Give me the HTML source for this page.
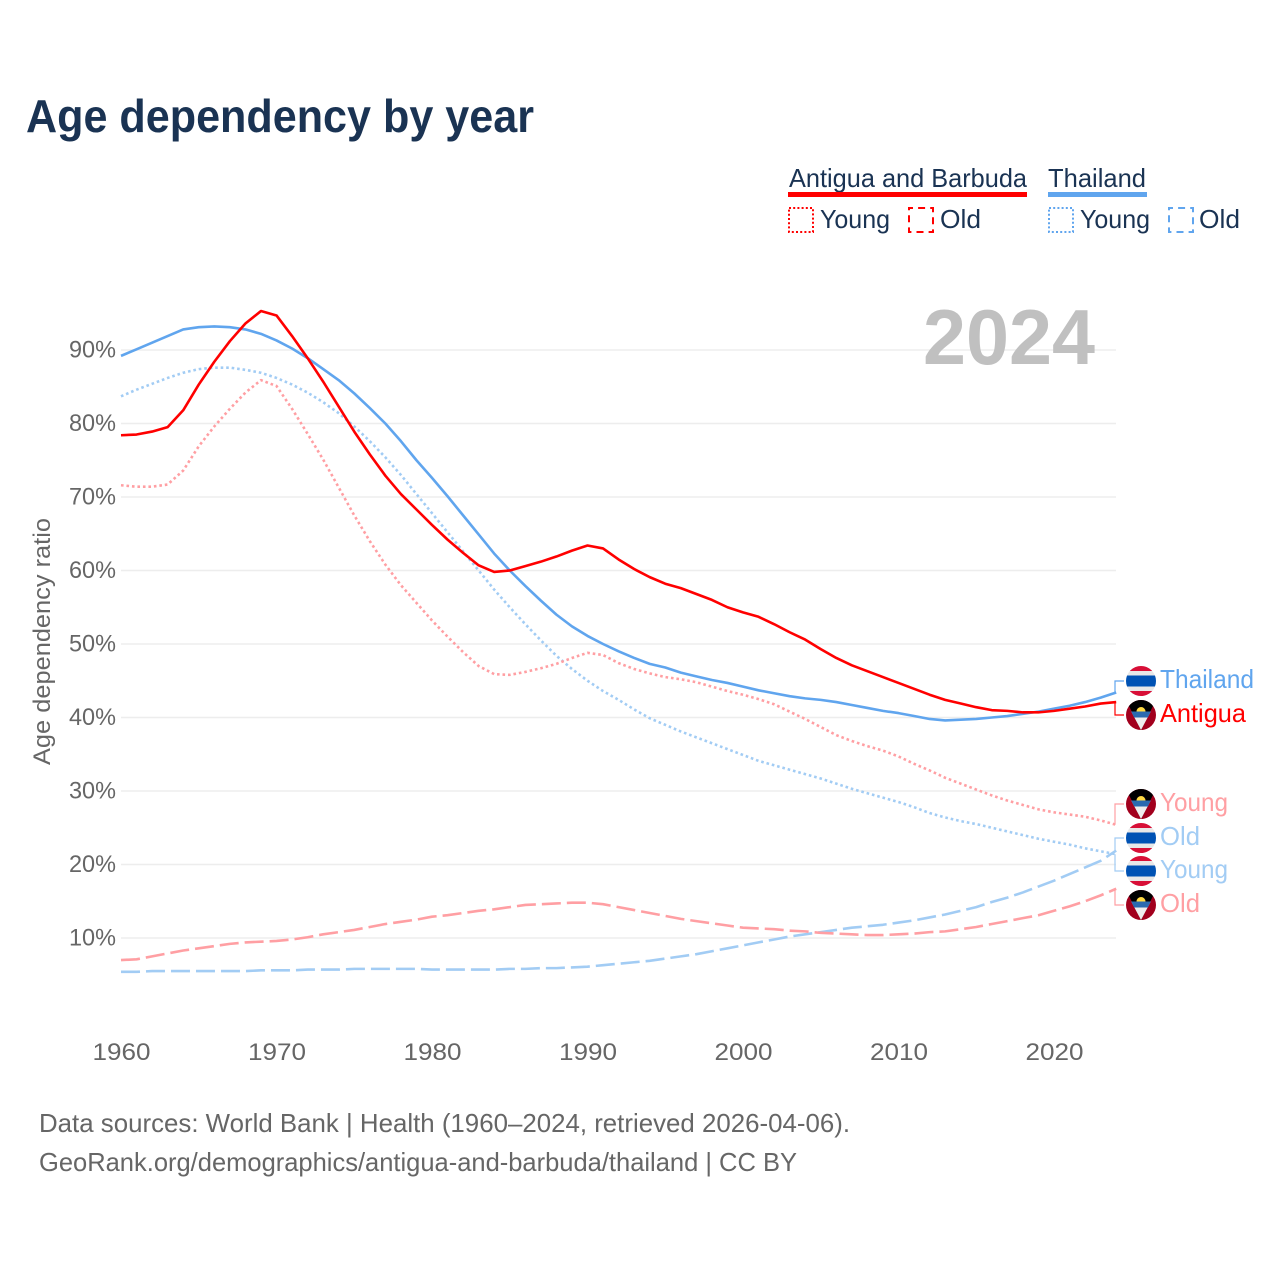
<!DOCTYPE html>
<html lang="en">
<head>
<meta charset="utf-8">
<title>Age dependency by year</title>
<style>
html,body{margin:0;padding:0;background:#fff;}
svg{display:block;font-family:"Liberation Sans",sans-serif;}
</style>
</head>
<body>
<svg id="chart" xmlns="http://www.w3.org/2000/svg" width="1280" height="1280" viewBox="0 0 1280 1280">
  <rect width="1280" height="1280" fill="#fff"/>
  <text x="26" y="132" font-size="46" font-weight="700" fill="#1a3353" textLength="508" lengthAdjust="spacingAndGlyphs">Age dependency by year</text>

  <g id="grid"></g>
  <text x="923" y="364" font-size="78" font-weight="700" fill="#c0c0c0" textLength="172" lengthAdjust="spacingAndGlyphs">2024</text>
  <g id="series"></g>
  <g id="yticks"></g>
  <g id="xticks"></g>
  <text transform="translate(50,765) rotate(-90)" font-size="24" fill="#666" textLength="247" lengthAdjust="spacingAndGlyphs">Age dependency ratio</text>

  <g font-size="26" fill="#1a3353">
    <text x="789" y="187" textLength="238" lengthAdjust="spacingAndGlyphs">Antigua and Barbuda</text>
    <rect x="788" y="192" width="239" height="5" fill="#ff0000"/>
    <text x="1048" y="187" textLength="98" lengthAdjust="spacingAndGlyphs">Thailand</text>
    <rect x="1048" y="192" width="99" height="5" fill="#60a5ee"/>
    <rect x="789" y="208" width="24" height="24" fill="none" stroke="#ff0000" stroke-width="2" stroke-dasharray="2 2.2"/>
    <text x="820" y="228" textLength="70" lengthAdjust="spacingAndGlyphs">Young</text>
    <rect x="909" y="208" width="24" height="24" fill="none" stroke="#ff0000" stroke-width="2" stroke-dasharray="7 5.1" stroke-dashoffset="3"/>
    <text x="940" y="228" textLength="41" lengthAdjust="spacingAndGlyphs">Old</text>
    <rect x="1049" y="208" width="24" height="24" fill="none" stroke="#60a5ee" stroke-width="2" stroke-dasharray="2 2.2"/>
    <text x="1080" y="228" textLength="70" lengthAdjust="spacingAndGlyphs">Young</text>
    <rect x="1169" y="208" width="24" height="24" fill="none" stroke="#60a5ee" stroke-width="2" stroke-dasharray="7 5.1" stroke-dashoffset="3"/>
    <text x="1199" y="228" textLength="41" lengthAdjust="spacingAndGlyphs">Old</text>
  </g>

  <defs>
    <clipPath id="flag-clip"><circle cx="0" cy="0" r="15"/></clipPath>
    <g id="flag-thailand">
      <g clip-path="url(#flag-clip)">
        <rect x="-15" y="-15" width="30" height="30" fill="#e8e8e8"/>
        <rect x="-15" y="-15" width="30" height="5" fill="#d80f37"/>
        <rect x="-15" y="10" width="30" height="5" fill="#d80f37"/>
        <rect x="-15" y="-5.5" width="30" height="11" fill="#0052b4"/>
      </g>
    </g>
    <g id="flag-antigua">
      <g clip-path="url(#flag-clip)">
        <rect x="-15" y="-15" width="30" height="30" fill="#a2001d"/>
        <polygon points="-15,-15 15,-15 0,15" fill="#000"/>
        <polygon points="-9.8,-3.5 9.8,-3.5 0,15" fill="#eeeeee"/>
        <polygon points="-9.8,-3.5 9.8,-3.5 6.8,2.5 -6.8,2.5" fill="#2a6ab0"/>
        <path d="M-4.5,-3.5 A4.5,4.5 0 0 1 4.5,-3.5 Z" fill="#ffda44"/>
      </g>
    </g>
  </defs>
  <g id="end-labels"></g>

  <text x="39" y="1132" font-size="26" fill="#666" textLength="811" lengthAdjust="spacingAndGlyphs">Data sources: World Bank | Health (1960–2024, retrieved 2026-04-06).</text>
  <text x="39" y="1171" font-size="26" fill="#666" textLength="758" lengthAdjust="spacingAndGlyphs">GeoRank.org/demographics/antigua-and-barbuda/thailand | CC BY</text>
</svg>
<script>
const startYear = 1960;
const xTickYears = [1960, 1970, 1980, 1990, 2000, 2010, 2020];
const yTickValues = [10, 20, 30, 40, 50, 60, 70, 80, 90];
const thailandTotal = [89.2,90.1,91.0,91.9,92.8,93.1,93.2,93.1,92.8,92.2,91.3,90.2,88.9,87.4,85.9,84.1,82.1,80.0,77.6,75.0,72.6,70.1,67.5,64.9,62.3,60.0,57.9,55.9,54.0,52.4,51.1,50.0,49.0,48.1,47.3,46.8,46.1,45.6,45.1,44.7,44.2,43.7,43.3,42.9,42.6,42.4,42.1,41.7,41.3,40.9,40.6,40.2,39.8,39.6,39.7,39.8,40.0,40.2,40.5,40.8,41.2,41.6,42.1,42.7,43.4];
const antiguaTotal = [78.4,78.5,78.9,79.5,81.8,85.3,88.4,91.2,93.6,95.3,94.7,91.9,88.9,85.7,82.3,78.9,75.8,72.9,70.4,68.3,66.2,64.2,62.4,60.7,59.8,60.0,60.6,61.2,61.9,62.7,63.4,63.0,61.5,60.2,59.1,58.2,57.6,56.8,56.0,55.0,54.3,53.7,52.7,51.6,50.6,49.3,48.1,47.1,46.3,45.5,44.7,43.9,43.1,42.4,41.9,41.4,41.0,40.9,40.7,40.7,40.9,41.2,41.5,41.9,42.1];
const antiguaYoung = [71.6,71.4,71.4,71.7,73.6,76.9,79.6,82.0,84.2,85.9,85.1,82.0,78.6,75.1,71.3,67.5,64.0,60.8,58.0,55.6,53.2,51.0,48.9,47.0,45.9,45.8,46.2,46.7,47.3,48.1,48.8,48.5,47.4,46.6,46.0,45.5,45.2,44.8,44.2,43.6,43.1,42.5,41.8,40.8,39.8,38.7,37.6,36.8,36.1,35.5,34.7,33.7,32.8,31.8,31.0,30.2,29.4,28.7,28.1,27.5,27.1,26.8,26.5,26.0,25.4];
const thailandYoung = [83.7,84.6,85.4,86.2,86.9,87.4,87.6,87.6,87.3,86.9,86.2,85.3,84.2,82.9,81.4,79.6,77.6,75.4,73.0,70.4,67.8,65.2,62.6,60.0,57.4,55.0,52.7,50.5,48.4,46.6,45.0,43.6,42.4,41.1,39.9,39.0,38.1,37.3,36.5,35.7,34.9,34.1,33.5,32.9,32.3,31.7,31.0,30.3,29.7,29.1,28.5,27.8,27.0,26.4,25.9,25.5,25.0,24.5,24.0,23.5,23.1,22.7,22.2,21.8,21.4];
const antiguaOld = [7.0,7.1,7.5,7.9,8.3,8.6,8.9,9.2,9.4,9.5,9.6,9.8,10.1,10.5,10.8,11.1,11.5,11.9,12.2,12.5,12.9,13.1,13.4,13.7,13.9,14.2,14.5,14.6,14.7,14.8,14.8,14.6,14.2,13.8,13.4,13.0,12.6,12.3,12.0,11.7,11.4,11.3,11.2,11.0,10.9,10.7,10.6,10.5,10.4,10.4,10.5,10.6,10.8,10.9,11.2,11.5,11.9,12.3,12.7,13.1,13.7,14.3,15.0,15.8,16.7];
const thailandOld = [5.4,5.4,5.5,5.5,5.5,5.5,5.5,5.5,5.5,5.6,5.6,5.6,5.7,5.7,5.7,5.8,5.8,5.8,5.8,5.8,5.7,5.7,5.7,5.7,5.7,5.8,5.8,5.9,5.9,6.0,6.1,6.3,6.5,6.7,6.9,7.2,7.5,7.8,8.2,8.6,9.0,9.4,9.8,10.2,10.5,10.8,11.1,11.4,11.6,11.8,12.1,12.4,12.8,13.2,13.7,14.2,14.9,15.5,16.2,17.0,17.8,18.7,19.6,20.5,21.9];

const NS = 'http://www.w3.org/2000/svg';
const xScale = year => 121 + (year - 1960) * 15.55;
const yScale = value => 938 - (value - 10) * 7.35;
const pts = values => values.map((v, i) => xScale(startYear + i).toFixed(2) + ',' + yScale(v).toFixed(2)).join(' ');

function make(tag, attrs, text) {
  const el = document.createElementNS(NS, tag);
  for (const k in attrs) el.setAttribute(k, attrs[k]);
  if (text !== undefined) el.textContent = text;
  return el;
}

const grid = document.getElementById('grid');
const yticks = document.getElementById('yticks');
yTickValues.forEach(v => {
  const line = make('line', {x1: 121, x2: 1116, y1: yScale(v), y2: yScale(v), stroke: '#ededed', 'stroke-width': 1.5});
  
  
  grid.appendChild(line);
  const label = make('text', {x: 69, y: yScale(v) + 7.5, 'font-size': 24, fill: '#666', textLength: 47, lengthAdjust: 'spacingAndGlyphs'}, v + '%');
  
  
  yticks.appendChild(label);
});

const xticks = document.getElementById('xticks');
xTickYears.forEach(y => {
  const label = make('text', {x: xScale(y) - 28.5, y: 1060, 'font-size': 24, fill: '#666', textLength: 58, lengthAdjust: 'spacingAndGlyphs'}, String(y));
  
  
  xticks.appendChild(label);
});

const seriesGroup = document.getElementById('series');
function drawLine(values, color, dash, name) {
  const attrs = {points: pts(values), fill: 'none', stroke: color, 'stroke-width': 2.6, 'stroke-linejoin': 'round'};
  if (dash) attrs['stroke-dasharray'] = dash;
  const line = make('polyline', attrs);
  
  
  seriesGroup.appendChild(line);
}
const BLUE = '#60a5ee', RED = '#ff0000', LBLUE = '#a2ccf4', LRED = '#ff9fa3';
drawLine(thailandOld, LBLUE, '19 6', 'thailand-old-line');
drawLine(antiguaOld, LRED, '19 6', 'antigua-old-line');
drawLine(thailandYoung, LBLUE, '2.6 2.9', 'thailand-young-line');
drawLine(antiguaYoung, LRED, '2.6 2.9', 'antigua-young-line');
drawLine(thailandTotal, BLUE, null, 'thailand-total-line');
drawLine(antiguaTotal, RED, null, 'antigua-total-line');

const endGroup = document.getElementById('end-labels');
function endLabel(values, labelY, flag, text, color, width, name) {
  const endY = yScale(values[values.length - 1]);
  const conn = make('polyline', {points: '1115,' + endY.toFixed(2) + ' 1115,' + labelY + ' 1124,' + labelY, fill: 'none', stroke: color, 'stroke-width': 1.2});
  
  
  endGroup.appendChild(conn);
  const icon = make('use', {href: '#flag-' + flag, x: 1141, y: labelY});
  
  
  endGroup.appendChild(icon);
  const t = make('text', {x: 1160, y: labelY + 7, 'font-size': 26, fill: color, textLength: width, lengthAdjust: 'spacingAndGlyphs'}, text);
  
  
  endGroup.appendChild(t);
}
endLabel(thailandTotal, 681, 'thailand', 'Thailand', BLUE, 94, 'thailand-total');
endLabel(antiguaTotal, 715, 'antigua', 'Antigua', RED, 86, 'antigua-total');
endLabel(antiguaYoung, 804, 'antigua', 'Young', LRED, 68, 'antigua-young');
endLabel(thailandOld, 838, 'thailand', 'Old', LBLUE, 40, 'thailand-old');
endLabel(thailandYoung, 871, 'thailand', 'Young', LBLUE, 68, 'thailand-young');
endLabel(antiguaOld, 905, 'antigua', 'Old', LRED, 40, 'antigua-old');
</script>
</body>
</html>
